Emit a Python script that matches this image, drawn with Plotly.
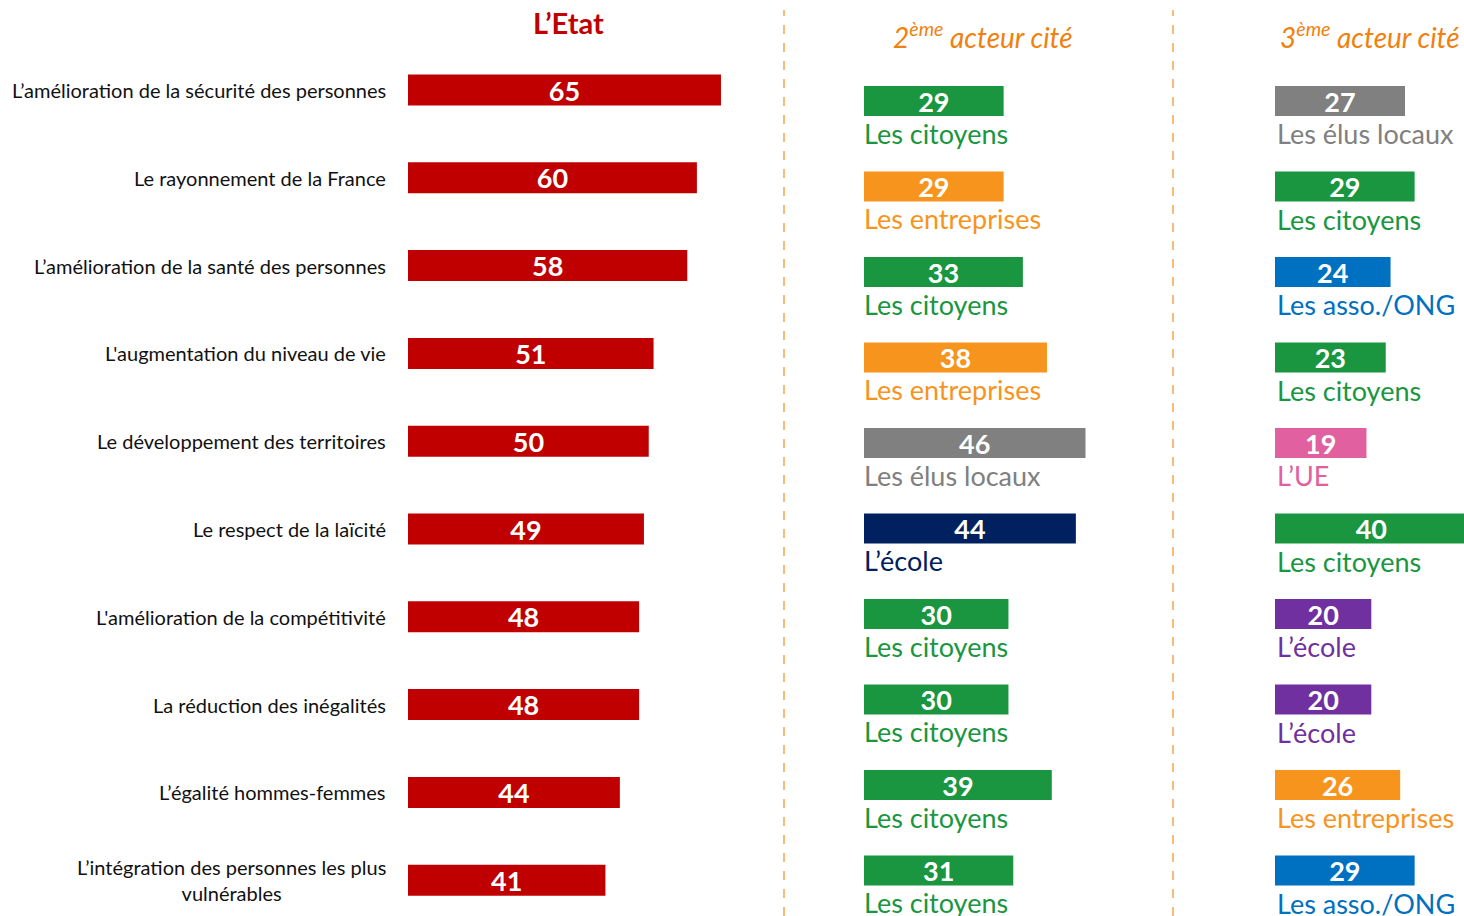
import plotly.graph_objects as go

categories = [
    "L’amélioration de la sécurité des personnes",
    "Le rayonnement de la France",
    "L’amélioration de la santé des personnes",
    "L'augmentation du niveau de vie",
    "Le développement des territoires",
    "Le respect de la laïcité",
    "L'amélioration de la compétitivité",
    "La réduction des inégalités",
    "L’égalité hommes-femmes",
    "L’intégration des personnes les plus<br>vulnérables",
]
etat_values = [65, 60, 58, 51, 50, 49, 48, 48, 44, 41]

second_actor = ["Les citoyens", "Les entreprises", "Les citoyens", "Les entreprises",
                "Les élus locaux", "L’école", "Les citoyens", "Les citoyens",
                "Les citoyens", "Les citoyens"]
second_values = [29, 29, 33, 38, 46, 44, 30, 30, 39, 31]

third_actor = ["Les élus locaux", "Les citoyens", "Les asso./ONG", "Les citoyens",
               "L’UE", "Les citoyens", "L’école", "L’école",
               "Les entreprises", "Les asso./ONG"]
third_values = [27, 29, 24, 23, 19, 40, 20, 20, 26, 29]

actor_colors = {
    "Les citoyens": "#1A9641",
    "Les entreprises": "#F7941D",
    "Les élus locaux": "#808080",
    "L’école": "#002060",
    "Les asso./ONG": "#0070C0",
    "L’UE": "#E060A0",
}
third_school_color = "#7030A0"

W, H = 1464, 916
PX_PER_UNIT = 4.815
FONT = "Lato"

idx = list(range(len(categories)))

fig = go.Figure()

# column extents in pixels
c1 = (408, 780)
c2 = (864, 1170)
c3 = (1275, 1464)


def dom(c):
    return [c[0] / W, c[1] / W]


def rng(c):
    return [0, (c[1] - c[0]) / PX_PER_UNIT]


# row centres: col1 90 + 87.8*i ; cols 2,3: 101 + 85.5*i
y1_range = [(H - 90) / 87.8, -90 / 87.8]
y2_range = [(H - 101) / 85.5, -101 / 85.5]

val_font = dict(color="white", size=27, family=FONT)

fig.add_trace(go.Bar(
    x=etat_values, y=idx, orientation="h", width=31 / 87.8,
    marker=dict(color="#C00000", line=dict(width=0)),
    text=["<b>%d</b>" % v for v in etat_values], textposition="inside",
    insidetextanchor="middle", textangle=0, textfont=val_font,
    constraintext="none",
    xaxis="x", yaxis="y", hoverinfo="skip",
))

c2_colors = [actor_colors[a] for a in second_actor]
c3_colors = [third_school_color if a == "L’école" else actor_colors[a] for a in third_actor]

fig.add_trace(go.Bar(
    x=second_values, y=idx, orientation="h", width=30 / 85.5,
    marker=dict(color=c2_colors, line=dict(width=0)),
    text=["<b>%d</b>" % v for v in second_values], textposition="inside",
    insidetextanchor="middle", textangle=0, textfont=val_font,
    constraintext="none",
    xaxis="x2", yaxis="y2", hoverinfo="skip",
))
fig.add_trace(go.Bar(
    x=third_values, y=idx, orientation="h", width=30 / 85.5,
    marker=dict(color=c3_colors, line=dict(width=0)),
    text=["<b>%d</b>" % v for v in third_values], textposition="inside",
    insidetextanchor="middle", textangle=0, textfont=val_font,
    constraintext="none",
    xaxis="x3", yaxis="y3", hoverinfo="skip",
))

annotations = []
for i, cat in enumerate(categories):
    annotations.append(dict(
        x=0, y=i, xref="x", yref="y", text=cat, showarrow=False,
        xanchor="right", yanchor="middle", align="center", xshift=-20,
        font=dict(size=20, color="#111111", family=FONT),
    ))
for i, a in enumerate(second_actor):
    annotations.append(dict(
        x=0, y=i + 0.375, xref="x2", yref="y2", text=a, showarrow=False,
        xanchor="left", yanchor="middle", xshift=-2,
        font=dict(size=27, color=c2_colors[i], family=FONT),
    ))
for i, a in enumerate(third_actor):
    annotations.append(dict(
        x=0, y=i + 0.385, xref="x3", yref="y3", text=a, showarrow=False,
        xanchor="left", yanchor="middle", xshift=0,
        font=dict(size=27, color=c3_colors[i], family=FONT),
    ))

annotations += [
    dict(x=568 / W, y=1 - 23 / H, xref="paper", yref="paper", text="<b>L’Etat</b>",
         showarrow=False, xanchor="center", yanchor="middle",
         font=dict(size=29, color="#C00000", family=FONT)),
    dict(x=983 / W, y=1 - 36 / H, xref="paper", yref="paper",
         text="<i>2<sup>ème</sup> acteur cité</i>",
         showarrow=False, xanchor="center", yanchor="middle",
         font=dict(size=28, color="#F0810F", family=FONT)),
    dict(x=1370 / W, y=1 - 36 / H, xref="paper", yref="paper",
         text="<i>3<sup>ème</sup> acteur cité</i>",
         showarrow=False, xanchor="center", yanchor="middle",
         font=dict(size=28, color="#F0810F", family=FONT)),
]

shapes = [
    dict(type="line", xref="paper", yref="paper", x0=784 / W, x1=784 / W,
         y0=0, y1=1 - 10 / H, line=dict(color="#F5A64A", width=1.5, dash="dash")),
    dict(type="line", xref="paper", yref="paper", x0=1173 / W, x1=1173 / W,
         y0=0, y1=1 - 10 / H, line=dict(color="#F5A64A", width=1.5, dash="dash")),
]

axis_off = dict(showgrid=False, zeroline=False, showticklabels=False,
                showline=False, ticks="", fixedrange=True)

fig.update_layout(
    width=W, height=H, margin=dict(l=0, r=0, t=0, b=0),
    paper_bgcolor="white", plot_bgcolor="rgba(0,0,0,0)",
    showlegend=False, barmode="overlay",
    xaxis=dict(domain=dom(c1), range=rng(c1), anchor="y", **axis_off),
    xaxis2=dict(domain=dom(c2), range=rng(c2), anchor="y2", **axis_off),
    xaxis3=dict(domain=dom(c3), range=rng(c3), anchor="y3", **axis_off),
    yaxis=dict(domain=[0, 1], range=y1_range, anchor="x", **axis_off),
    yaxis2=dict(domain=[0, 1], range=y2_range, anchor="x2", **axis_off),
    yaxis3=dict(domain=[0, 1], range=y2_range, anchor="x3", **axis_off),
    annotations=annotations, shapes=shapes,
    font=dict(family=FONT),
)

fig.write_html(
    "out.html",
    config={"displayModeBar": False},
    post_script="document.body.style.margin='0';document.body.style.overflow='hidden';",
)
